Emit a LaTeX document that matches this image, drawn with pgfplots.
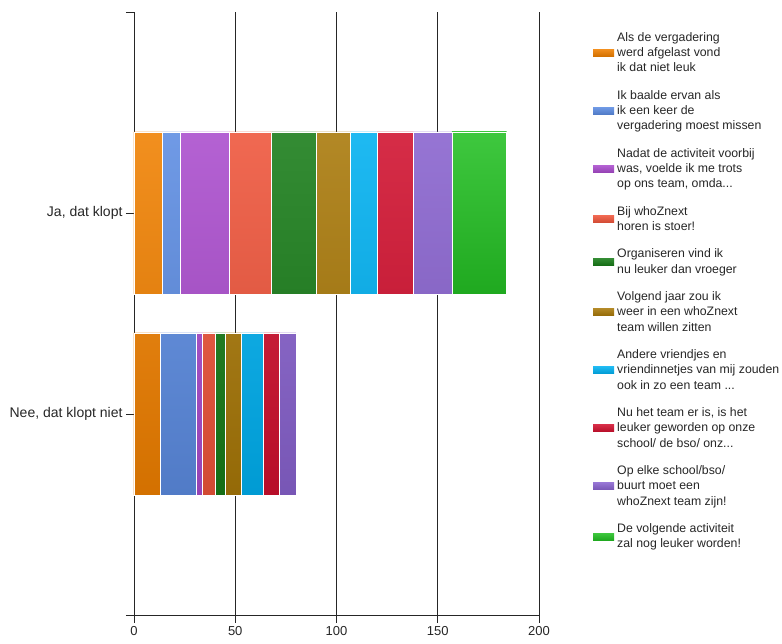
\documentclass[border=0pt]{standalone}
\usepackage{pgfplots}
\pgfplotsset{compat=1.18}
\usepackage{fontspec}
\setmainfont{Liberation Sans}
\definecolor{c1}{RGB}{240,128,0}
\definecolor{c2}{RGB}{92,140,226}
\definecolor{c3}{RGB}{170,76,205}
\definecolor{c4}{RGB}{238,84,58}
\definecolor{c5}{RGB}{24,124,24}
\definecolor{c6}{RGB}{168,120,8}
\definecolor{c7}{RGB}{0,176,240}
\definecolor{c8}{RGB}{208,16,46}
\definecolor{c9}{RGB}{136,98,206}
\definecolor{c10}{RGB}{36,192,36}
\pgfplotsset{grad/.style={fill=#1, top color=#1!88!white, bottom color=#1!88!black}}
\begin{document}
\begin{tikzpicture}
\begin{axis}[
  name=ax,
  scale only axis, width=405pt, height=603pt,
  xbar stacked, bar width=162pt,
  xmin=0, xmax=200, ymin=-1, ymax=2,
  xtick={0,50,100,150,200},
  xmajorgrids, grid style={black!85, line width=0.9pt},
  ytick={-1,0,1,2},
  yticklabels={,{Nee, dat klopt niet},{Ja, dat klopt},},
  axis x line*=bottom, axis y line*=left,
  axis line style={black!85, line width=0.9pt},
  tick align=outside, major tick length=8pt,
  tick style={black!85, line width=0.9pt},
  /pgf/number format/assume math mode=true,
  xticklabel style={font=\fontsize{13}{15}\selectfont, text=black!85},
  yticklabel style={font=\fontsize{14}{16}\selectfont, text=black!85},
  every axis plot/.append style={draw=white, line width=0.8pt},
  legend style={draw=none, fill=none, at={(1,1)}, anchor=north west,
    xshift=54pt, yshift=-19pt, inner sep=0pt,
    row sep=15pt, column sep=2pt, text=black!85,
    nodes={align=left, font=\fontsize{12.3}{15.3}\selectfont, inner sep=1pt}},
  legend cell align=left,
  legend image code/.code={\fill[#1, draw=none] (0pt,-3.5pt) rectangle (21pt,3.5pt);},
]
\addplot[grad=c1] coordinates {(14,1) (13,0)};
\addplot[grad=c2] coordinates {(9,1) (18,0)};
\addplot[grad=c3] coordinates {(24,1) (3,0)};
\addplot[grad=c4] coordinates {(21,1) (6,0)};
\addplot[grad=c5] coordinates {(22,1) (5,0)};
\addplot[grad=c6] coordinates {(17,1) (8,0)};
\addplot[grad=c7] coordinates {(13,1) (11,0)};
\addplot[grad=c8] coordinates {(18,1) (8,0)};
\addplot[grad=c9] coordinates {(19,1) (8,0)};
\addplot[grad=c10] coordinates {(27,1)};
\addlegendentry{Als de vergadering\\werd afgelast vond\\ik dat niet leuk}
\addlegendentry{Ik baalde ervan als\\ik een keer de\\vergadering moest missen}
\addlegendentry{Nadat de activiteit voorbij\\was, voelde ik me trots\\op ons team, omda...}
\addlegendentry{Bij whoZnext\\horen is stoer!}
\addlegendentry{Organiseren vind ik\\nu leuker dan vroeger}
\addlegendentry{Volgend jaar zou ik\\weer in een whoZnext\\team willen zitten}
\addlegendentry{Andere vriendjes en\\vriendinnetjes van mij zouden\\ook in zo een team ...}
\addlegendentry{Nu het team er is, is het\\leuker geworden op onze\\school/ de bso/ onz...}
\addlegendentry{Op elke school/bso/\\buurt moet een\\whoZnext team zijn!}
\addlegendentry{De volgende activiteit\\zal nog leuker worden!}
\end{axis}
\path ([xshift=-134pt,yshift=-29pt]ax.south west) rectangle ++(782pt,644pt);
\end{tikzpicture}
\end{document}
